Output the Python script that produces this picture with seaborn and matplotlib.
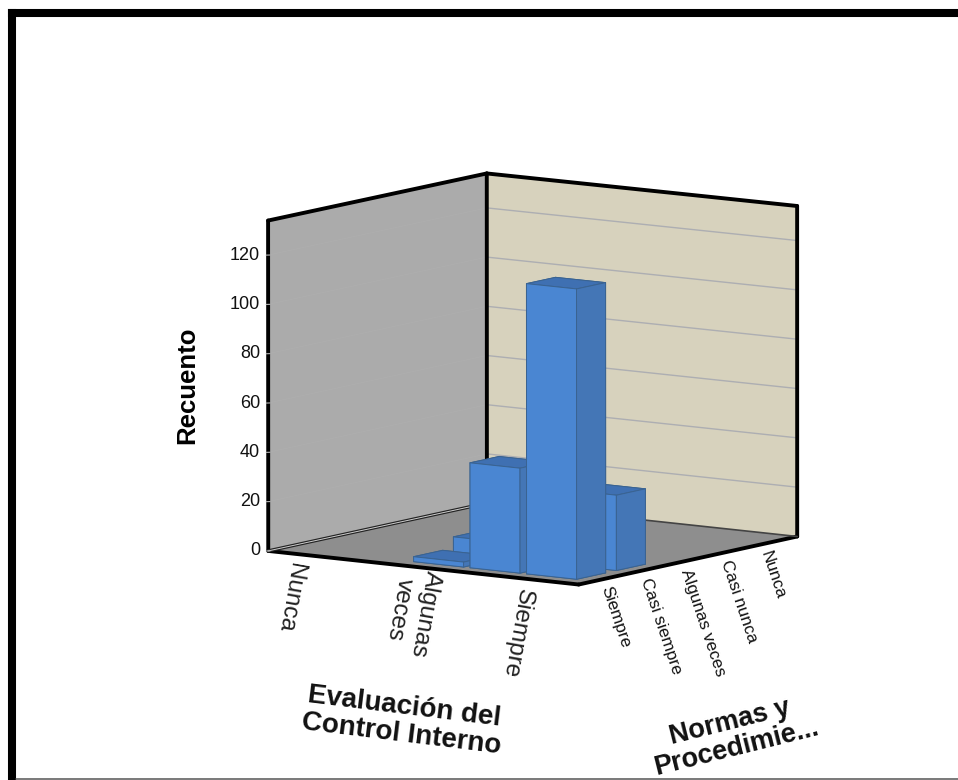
import numpy as np
import pandas as pd
import matplotlib
matplotlib.use("Agg")
import matplotlib.pyplot as plt
from matplotlib.lines import Line2D
from mpl_toolkits.mplot3d.art3d import Poly3DCollection
import seaborn as sns

# categories
evaluacion = ['Nunca', 'Casi nunca', 'Algunas\nveces', 'Casi siempre', 'Siempre']
normas = ['Siempre', 'Casi siempre', 'Algunas veces', 'Casi nunca', 'Nunca']
evaluacion_shown = ['Nunca', 'Algunas\nveces', 'Siempre']

# counts
bar_evaluacion = ['Algunas\nveces', 'Algunas\nveces', 'Casi siempre', 'Siempre', 'Siempre']
bar_normas = ['Casi siempre', 'Siempre', 'Siempre', 'Casi siempre', 'Siempre']
bar_count = [6.5, 2, 42.5, 30.5, 117.5]

z_ticks = [0, 20, 40, 60, 80, 100, 120]
z_max = 134

sns.set_theme(style="white")
plt.rcParams['font.family'] = ['Liberation Sans', 'DejaVu Sans']

df = pd.DataFrame({'evaluacion': bar_evaluacion, 'normas': bar_normas, 'recuento': bar_count})
df['x'] = df['evaluacion'].map(evaluacion.index)
df['y'] = df['normas'].map(normas.index)

W, H = 958, 780
x0, x1 = -0.75, 4.75
y0, y1 = -0.75, 4.75

fig = plt.figure(figsize=(W / 100, H / 100), dpi=100)
ax = fig.add_axes([0, 0, 1, 1], projection='3d', proj_type='ortho', computed_zorder=False)
ax.set_axis_off()

# box corners in the reference (pixels, y down), used to fit the camera
corners = [
    ((x0, y0, 0), (268, 549)), ((x1, y0, 0), (579, 586)),
    ((x1, y1, 0), (797, 535)), ((x0, y1, 0), (487, 505)),
    ((x0, y0, z_max), (268, 221)), ((x0, y1, z_max), (487, 173)),
    ((x1, y1, z_max), (797, 206)),
]
rows = []
for (x, y, z), (u, v) in corners:
    v = H - v
    rows.append([x, y, z, 1, 0, 0, 0, 0, -u * x, -u * y, -u * z, -u])
    rows.append([0, 0, 0, 0, x, y, z, 1, -v * x, -v * y, -v * z, -v])
cam = np.linalg.svd(np.array(rows))[2][-1].reshape(3, 4)
cam = cam / cam[2, 3]


def fitted_proj():
    # pixel camera -> axes 2d data, with a depth row so faces sort back to front
    to_data = ax.transData.inverted().get_matrix()
    p = to_data @ cam
    depth = np.array([-1 / 5.5, 1 / 5.5, -0.1 / z_max, 1.0])
    return np.vstack([p[0], p[1], depth, p[2]])


ax.get_proj = fitted_proj


def label_at(x, y, z, text, dx=0, dy=0, **kwargs):
    # text in figure coordinates at a projected 3d point, so that rotation is kept
    u, v, w = cam @ np.array([x, y, z, 1.0])
    return fig.text((u / w + dx) / W, (v / w + dy) / H, text, **kwargs)


# walls and floor
wall_left = [(x0, y0, 0), (x0, y1, 0), (x0, y1, z_max), (x0, y0, z_max)]
wall_right = [(x0, y1, 0), (x1, y1, 0), (x1, y1, z_max), (x0, y1, z_max)]
floor = [(x0, y0, 0), (x1, y0, 0), (x1, y1, 0), (x0, y1, 0)]
for poly, colour in [(wall_left, '#ababab'), (wall_right, '#d7d2bd'), (floor, '#8e8e8e')]:
    ax.add_collection3d(Poly3DCollection([poly], facecolors=colour, edgecolors='none', zorder=1))

# grid lines
for z in z_ticks[1:]:
    ax.plot([x0, x1], [y1, y1], [z, z], color='#adaeb2', lw=1.0, zorder=2)
    ax.plot([x0, x0], [y0, y1], [z, z], color='#aeaeae', lw=0.6, zorder=2)

# box edges
edges = [
    [(x0, y0, 0), (x1, y0, 0)], [(x1, y0, 0), (x1, y1, 0)],
    [(x0, y0, 0), (x0, y0, z_max)], [(x0, y1, z_max), (x0, y1, 0)],
    [(x1, y1, 0), (x1, y1, z_max)], [(x0, y0, z_max), (x0, y1, z_max)],
    [(x0, y1, z_max), (x1, y1, z_max)],
]
for a, b in edges:
    ax.plot(*zip(a, b), color='black', lw=2.8, zorder=3, solid_capstyle='round')
# back edges of the floor
ax.plot([x0, x0], [y0, y1], [0, 0], color='#222222', lw=2.4, zorder=3)
ax.plot([x0, x0], [y0, y1], [0, 0], color='#cfcfcf', lw=0.7, zorder=3)
ax.plot([x0, x1], [y1, y1], [0, 0], color='#444444', lw=1.2, zorder=3)

# bars, back to front
wx, wy = 0.885, 0.73
face_colours = ['#3f70b2', '#3f70b2', '#4a86d2', '#4a86d2', '#4476b6', '#4476b6']
order = df.sort_values(['y', 'x'], ascending=[False, True])
for i, row in enumerate(order.itertuples()):
    ax.bar3d(row.x - wx / 2, row.y - wy / 2, 0, wx, wy, row.recuento, color=face_colours,
             shade=False, edgecolor='#3a6391', linewidth=0.7, zorder=4 + i)

# ticks and labels
for z in z_ticks:
    ax.plot([x0 - 0.02, x0 + 0.02], [y0 - 0.02, y0 + 0.02], [z, z], color='#b5b5b5', lw=0.8, zorder=4)
    label_at(x0, y0, z, str(z), dx=-8, ha='right', va='center', fontsize=13, color='#111111')

x_offsets = {'Nunca': (-15, -8), 'Algunas\nveces': (-3, -1), 'Siempre': (-12, -9)}
for label in evaluacion_shown:
    dx, dy = x_offsets[label]
    label_at(evaluacion.index(label), y0, 0, label, dx=dx, dy=dy, rotation=-100,
             rotation_mode='anchor', ha='left', va='center', ma='center', fontsize=17.5,
             color='#222222', linespacing=1.25)

for j, label in enumerate(normas):
    label_at(x1, j, 0, label, dx=-3, dy=-9, rotation=-71.5, rotation_mode='anchor', ha='left',
             va='center', fontsize=12.3, color='#111111')


def px(x, y):
    return x / W, 1 - y / H


fig.text(*px(187, 385), 'Recuento', rotation=90, ha='center', va='center', fontsize=18.5,
         fontweight='bold', color='black')
fig.text(*px(403, 721), 'Evaluación del\nControl Interno', rotation=-7, ha='center', va='center',
         ma='center', fontsize=20, fontweight='bold', color='#111111', linespacing=1.08,
         rotation_mode='anchor')
fig.text(*px(733, 735), 'Normas y\nProcedimie...', rotation=14, ha='center', va='center',
         ma='center', fontsize=19.5, fontweight='bold', color='#111111', linespacing=1.02,
         rotation_mode='anchor')

# picture frame
fig.add_artist(Line2D([12 / W, 12 / W], [0, 1 - 13 / H], color='black', lw=5.8, solid_capstyle='projecting'))
fig.add_artist(Line2D([12 / W, 1], [1 - 13 / H, 1 - 13 / H], color='black', lw=5.8, solid_capstyle='projecting'))
fig.add_artist(Line2D([16 / W, 1], [0.8 / H, 0.8 / H], color='#555555', lw=1.1))

plt.savefig('out.png', dpi=100)
